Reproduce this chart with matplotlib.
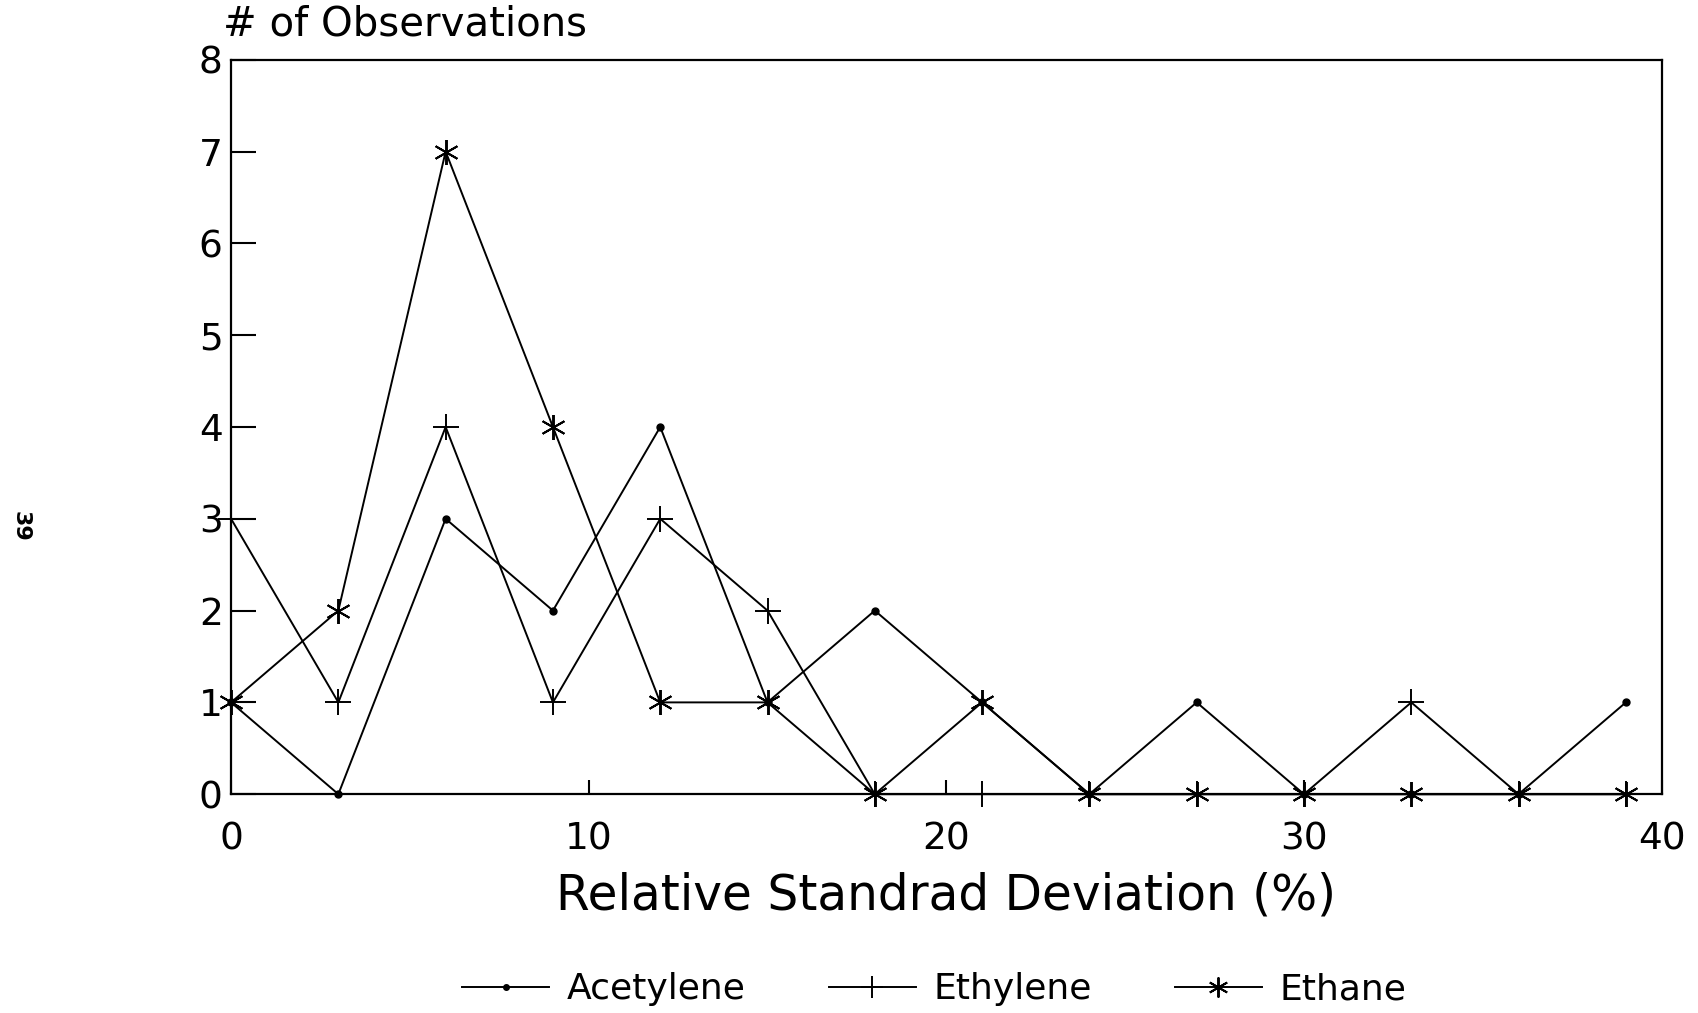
import numpy as np
import matplotlib.pyplot as plt

plt.rcParams['font.family'] = ['DejaVu Sans']

# data
rsd = [0, 3, 6, 9, 12, 15, 18, 21, 24, 27, 30, 33, 36, 39]
acetylene = [1, 0, 3, 2, 4, 1, 2, 1, 0, 1, 0, 0, 0, 1]
ethylene = [3, 1, 4, 1, 3, 2, 0, 0, 0, 0, 0, 1, 0, 0]
ethane = [1, 2, 7, 4, 1, 1, 0, 1, 0, 0, 0, 0, 0, 0]

x_ticks = [0, 10, 20, 30, 40]
y_ticks = [0, 1, 2, 3, 4, 5, 6, 7, 8]

fig = plt.figure(figsize=(16.99, 10.13), dpi=100)
ax = fig.add_axes([0.136, 0.216, 0.842, 0.725])

asterisk = (6, 2, 0)
ax.plot(rsd, acetylene, color='black', lw=1.4, marker='o', ms=5,
        clip_on=False, label='Acetylene', zorder=3)
ax.plot(rsd, ethylene, color='black', lw=1.4, marker='+', ms=19, mew=1.4,
        clip_on=False, label='Ethylene', zorder=3)
ax.plot(rsd, ethane, color='black', lw=1.4, marker=asterisk, ms=18, mew=1.4,
        clip_on=False, label='Ethane', zorder=3)

ax.set_xlim(0, 40)
ax.set_ylim(0, 8)
ax.set_xticks(x_ticks)
ax.set_yticks(y_ticks)
ax.tick_params(axis='both', labelsize=27, direction='in', color='black')
ax.tick_params(axis='y', length=18, width=1.5, pad=6)
ax.tick_params(axis='x', length=10, width=1.5, pad=20)
for s in ax.spines.values():
    s.set_linewidth(1.6)

ax.set_xlabel('Relative Standrad Deviation (%)', fontsize=35, labelpad=10)
fig.text(0.131, 0.976, '# of Observations', fontsize=29, va='center', ha='left')
fig.text(0.012, 0.48, '39', fontsize=16, fontweight='bold', rotation=270,
         va='center', ha='center')

fig.legend(loc='center', bbox_to_anchor=(0.55, 0.0235), ncol=3, frameon=False,
           fontsize=26, handlelength=2.4, handletextpad=0.5, columnspacing=2.3,
           markerscale=0.8)

fig.savefig('out.png', dpi=100)
